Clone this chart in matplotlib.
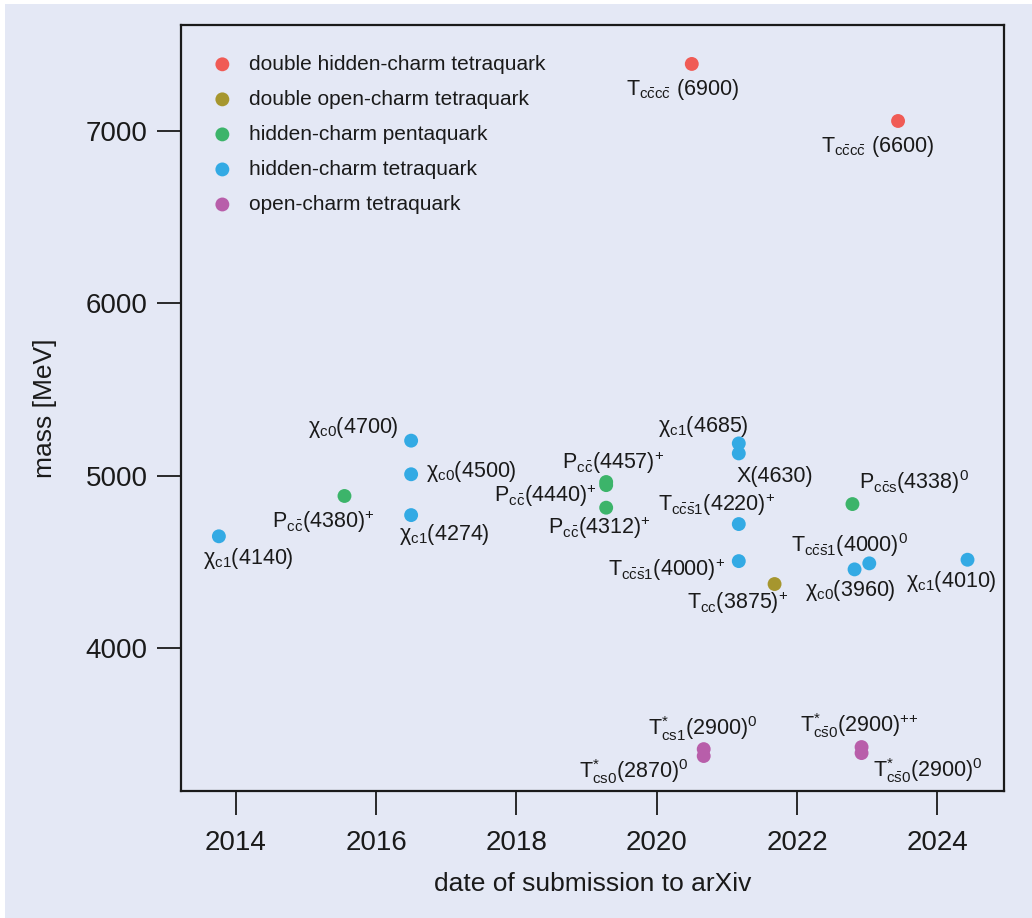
import matplotlib
matplotlib.use("Agg")
import matplotlib.pyplot as plt
from matplotlib.patches import Rectangle

FONT = "Liberation Sans"
plt.rcParams['font.family'] = [FONT, 'DejaVu Sans']
plt.rcParams['mathtext.fontset'] = 'custom'
plt.rcParams['mathtext.rm'] = FONT
plt.rcParams['mathtext.it'] = FONT
plt.rcParams['mathtext.bf'] = FONT

# ---------------- data ----------------
categories = ["double hidden-charm tetraquark", "double open-charm tetraquark",
              "hidden-charm pentaquark", "hidden-charm tetraquark", "open-charm tetraquark"]
colors = ["#F05B55", "#A6962E", "#3CB46A", "#33AAE4", "#B85EAA"]

red_dates = [2020.50, 2023.44]
red_mass = [7389, 7058]
red_names = [r"$\mathrm{T}_{\mathrm{c\bar{c}c\bar{c}}}$ (6900)",
             r"$\mathrm{T}_{\mathrm{c\bar{c}c\bar{c}}}$ (6600)"]

olive_dates = [2021.68]
olive_mass = [4371]
olive_names = [r"$\mathrm{T}_{\mathrm{cc}}$(3875)$^{+}$"]

green_dates = [2015.55, 2019.28, 2019.28, 2019.28, 2022.79]
green_mass = [4882, 4963, 4945, 4814, 4835]
green_names = [r"$\mathrm{P}_{\mathrm{c\bar{c}}}$(4380)$^{+}$",
               r"$\mathrm{P}_{\mathrm{c\bar{c}}}$(4457)$^{+}$",
               r"$\mathrm{P}_{\mathrm{c\bar{c}}}$(4440)$^{+}$",
               r"$\mathrm{P}_{\mathrm{c\bar{c}}}$(4312)$^{+}$",
               r"$\mathrm{P}_{\mathrm{c\bar{c}s}}$(4338)$^{0}$"]

blue_dates = [2013.76, 2016.50, 2016.50, 2016.50, 2021.17, 2021.17, 2021.17, 2021.17,
              2023.03, 2022.82, 2024.43]
blue_mass = [4648, 5203, 5008, 4771, 5187, 5129, 4719, 4504, 4491, 4456, 4512]
blue_names = [r"χ$_{\mathrm{c1}}$(4140)", r"χ$_{\mathrm{c0}}$(4700)", r"χ$_{\mathrm{c0}}$(4500)",
              r"χ$_{\mathrm{c1}}$(4274)", r"χ$_{\mathrm{c1}}$(4685)", "X(4630)",
              r"$\mathrm{T}_{\mathrm{c\bar{c}\bar{s}1}}$(4220)$^{+}$",
              r"$\mathrm{T}_{\mathrm{c\bar{c}\bar{s}1}}$(4000)$^{+}$",
              r"$\mathrm{T}_{\mathrm{c\bar{c}\bar{s}1}}$(4000)$^{0}$",
              r"χ$_{\mathrm{c0}}$(3960)", r"χ$_{\mathrm{c1}}$(4010)"]

magenta_dates = [2020.67, 2020.67, 2022.92, 2022.92]
magenta_mass = [3413, 3373, 3425, 3390]
magenta_names = [r"$\mathrm{T}^{*}_{\mathrm{cs1}}$(2900)$^{0}$",
                 r"$\mathrm{T}^{*}_{\mathrm{cs0}}$(2870)$^{0}$",
                 r"$\mathrm{T}^{*}_{\mathrm{c\bar{s}0}}$(2900)$^{{+}{+}}$",
                 r"$\mathrm{T}^{*}_{\mathrm{c\bar{s}0}}$(2900)$^{0}$"]

x_ticks = [2014, 2016, 2018, 2020, 2022, 2024]
y_ticks = [4000, 5000, 6000, 7000]

# ---------------- label placement (pixel offsets: dx, dy-down, ha) ----------------
red_off = [(-9, 26, 'center'), (-21, 26, 'center')]
olive_off = [(-88, 19, 'left')]
green_off = [(-21, 26, 'center'), (-44, -19, 'left'), (-10, 11, 'right'),
             (-58, 20, 'left'), (7, -22, 'left')]
blue_off = [(-16, 22, 'left'), (-12, -13, 'right'), (15, -3, 'left'), (-12, 19, 'left'),
            (-81, -17, 'left'), (-2, 23, 'left'), (-81, -19, 'left'), (-14, 9, 'right'),
            (-78, -18, 'left'), (-50, 21, 'left'), (-62, 22, 'left')]
magenta_off = [(-56, -21, 'left'), (-125, 16, 'left'), (-62, -22, 'left'), (11, 17, 'left')]

BG = "#E4E8F5"
fig = plt.figure(figsize=(10.32, 9.18), dpi=100, facecolor="white")
fig.add_artist(Rectangle((5 / 1032, 0), 1, (918 - 4) / 918, transform=fig.transFigure,
                         facecolor=BG, edgecolor="none", zorder=-10))
ax = fig.add_axes([181 / 1032, 1 - 791 / 918, (1004 - 181) / 1032, (791 - 25) / 918])
ax.set_facecolor(BG)

groups = [(red_dates, red_mass, red_names, red_off),
          (olive_dates, olive_mass, olive_names, olive_off),
          (green_dates, green_mass, green_names, green_off),
          (blue_dates, blue_mass, blue_names, blue_off),
          (magenta_dates, magenta_mass, magenta_names, magenta_off)]

for (d, m, names, offs), cat, col in zip(groups, categories, colors):
    ax.scatter(d, m, s=100, color=col, edgecolors="none", label=cat, zorder=3)
    for xi, yi, nm, (dx, dy, ha) in zip(d, m, names, offs):
        ax.annotate(nm, (xi, yi), xytext=(dx, -dy), textcoords="offset pixels",
                    ha=ha, va="center", fontsize=15.5, color="#1a1a1a")

ax.set_xlim(2013.22, 2024.95)
ax.set_ylim(3170, 7615)
ax.set_xticks(x_ticks)
ax.set_yticks(y_ticks)
ax.tick_params(axis="both", labelsize=20, length=17, width=1.3, color="#1a1a1a",
               labelcolor="#1a1a1a")
ax.tick_params(axis="x", pad=11)
ax.tick_params(axis="y", pad=7)
for sp in ax.spines.values():
    sp.set_linewidth(1.6)
    sp.set_color("#1a1a1a")

ax.set_xlabel("date of submission to arXiv", fontsize=19, color="#1a1a1a")
ax.set_ylabel("mass [MeV]", fontsize=19, color="#1a1a1a")
ax.xaxis.set_label_coords(0.5, -0.106)
ax.yaxis.set_label_coords(-0.151, 0.5)

leg = ax.legend(loc="upper left", frameon=False, fontsize=15, handlelength=0.8,
                handletextpad=0.9, labelspacing=0.77, borderaxespad=0.0,
                bbox_to_anchor=(0.03, 0.972), scatterpoints=1)
for t in leg.get_texts():
    t.set_color("#1a1a1a")

fig.savefig("out.png", dpi=100, facecolor=fig.get_facecolor())
